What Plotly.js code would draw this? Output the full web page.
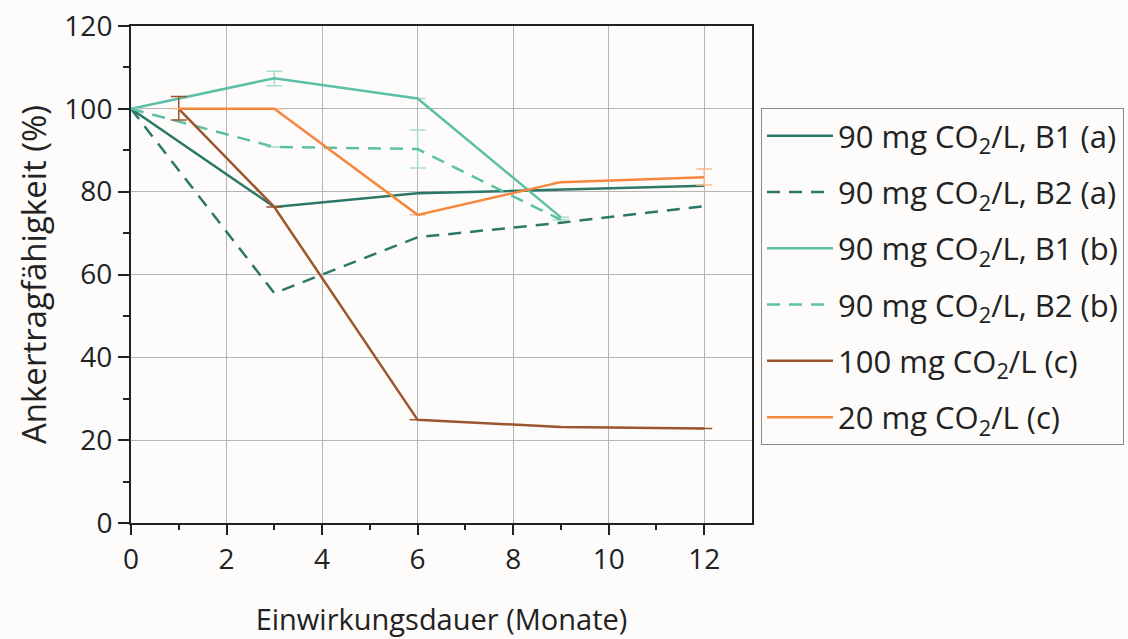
<!DOCTYPE html>
<html>
<head>
<meta charset="utf-8">
<script src="https://cdn.plot.ly/plotly-3.0.1.min.js"></script>
<style>html,body{margin:0;padding:0;background:#fdfcfb;}#chart{width:1128px;height:639px;}</style>
</head>
<body>
<div id="chart"></div>
<script>
// Data
const names = [
  "90 mg CO<sub>2</sub>/L, B1 (a)",
  "90 mg CO<sub>2</sub>/L, B2 (a)",
  "90 mg CO<sub>2</sub>/L, B1 (b)",
  "90 mg CO<sub>2</sub>/L, B2 (b)",
  "100 mg CO<sub>2</sub>/L (c)",
  "20 mg CO<sub>2</sub>/L (c)"
];
const xB1a = [0, 3, 6, 9, 12];
const yB1a = [100, 76.3, 79.6, 80.5, 81.4];
const xB2a = [0, 3, 6, 9, 12];
const yB2a = [100, 55.5, 69, 72.5, 76.5];
const xB1b = [0, 3, 6, 9];
const yB1b = [100, 107.4, 102.5, 73.8];
const errB1bPlus = [0, 1.7, 0, 0];
const errB1bMinus = [0, 1.8, 0, 0];
const xB2b = [0, 3, 6, 9];
const yB2b = [100, 90.8, 90.3, 73.2];
const errB2bPlus = [0, 0, 4.6, 0];
const errB2bMinus = [0, 0, 4.6, 0];
const x100 = [1, 3, 6, 9, 12];
const y100 = [100, 76.3, 24.9, 23.2, 22.8];
const err100Plus = [3, 0, 0, 0, 0];
const err100Minus = [2.7, 0, 0, 0, 0];
const x20 = [1, 3, 6, 9, 12];
const y20 = [100, 100, 74.4, 82.3, 83.5];
const err20Plus = [0, 0, 0, 0, 2];
const err20Minus = [0, 0, 0, 0, 1.9];
const xTicks = [0, 2, 4, 6, 8, 10, 12];
const yTicks = [0, 20, 40, 60, 80, 100, 120];

const cDark = "#2b7768";
const cLight = "#5cbfa6";
const cBrown = "#9c5530";
const cOrange = "#f5883f";
const dashPat = "13px,9px";
const LW = 2.5;

function errObj(plus, minus, color) {
  return {type: "data", symmetric: false, array: plus.map(v => v || null), arrayminus: minus.map(v => v || null),
          color: color, thickness: 1.5, width: 8, visible: true};
}

const traces = [
  {x: xB1a, y: yB1a, name: names[0], line: {color: cDark, width: LW}},
  {x: xB2a, y: yB2a, name: names[1], line: {color: cDark, width: LW, dash: dashPat}},
  {x: xB1b, y: yB1b, name: names[2], line: {color: cLight, width: LW},
   error_y: errObj(errB1bPlus, errB1bMinus, "#a9dccd")},
  {x: xB2b, y: yB2b, name: names[3], line: {color: cLight, width: LW, dash: dashPat},
   error_y: errObj(errB2bPlus, errB2bMinus, "#a9dccd")},
  {x: x100, y: y100, name: names[4], line: {color: cBrown, width: LW},
   error_y: errObj(err100Plus, err100Minus, cBrown)},
  {x: x20, y: y20, name: names[5], line: {color: cOrange, width: LW},
   error_y: errObj(err20Plus, err20Minus, "#f9b890")}
].map((t, i) => Object.assign({type: "scatter", mode: "lines", legendgroup: "g" + i}, t));

const font = "Open Sans, Noto Sans, sans-serif";
const layout = {
  width: 1128, height: 639,
  margin: {l: 131, r: 376, t: 26, b: 116, pad: 0, autoexpand: false},
  paper_bgcolor: "#fdfcfb",
  plot_bgcolor: "#fdfcfb",
  font: {family: font, color: "#222", size: 28},
  showlegend: true,
  legend: {
    x: 1.0145, y: 0.835, xanchor: "left", yanchor: "top",
    bordercolor: "#8a8a8a", borderwidth: 1, bgcolor: "#fdfcfb",
    font: {family: font, size: 31, color: "#222"},
    tracegroupgap: 13,
    itemwidth: 66
  },
  xaxis: {
    range: [0, 13], tickvals: xTicks, ticktext: xTicks.map(String),
    showgrid: true, gridcolor: "#b5b5b5", gridwidth: 1,
    showline: true, linecolor: "#222", linewidth: 2, mirror: true,
    ticks: "outside", ticklen: 10, tickwidth: 2, tickcolor: "#222",
    minor: {tickvals: [1, 3, 5, 7, 9, 11], ticks: "outside", ticklen: 5, tickwidth: 2, tickcolor: "#222", showgrid: false},
    tickfont: {size: 28, family: font, color: "#222"},
    zeroline: false, fixedrange: true, automargin: false,
    title: {text: "Einwirkungsdauer (Monate)", font: {size: 29, family: font, color: "#222"}, standoff: 34}
  },
  yaxis: {
    range: [0, 120], tickvals: yTicks, ticktext: yTicks.map(String),
    showgrid: true, gridcolor: "#b5b5b5", gridwidth: 1,
    showline: true, linecolor: "#222", linewidth: 2, mirror: true,
    ticks: "outside", ticklen: 11, tickwidth: 2, tickcolor: "#222",
    minor: {tickvals: [10, 30, 50, 70, 90, 110], ticks: "outside", ticklen: 6, tickwidth: 2, tickcolor: "#222", showgrid: false},
    tickfont: {size: 28, family: font, color: "#222"},
    zeroline: false, fixedrange: true, automargin: false,
    title: {text: "Ankertragfähigkeit (%)", font: {size: 33, family: font, color: "#222"}, standoff: 8}
  }
};

Plotly.newPlot("chart", traces, layout, {displayModeBar: false, staticPlot: true});
</script>
</body>
</html>
